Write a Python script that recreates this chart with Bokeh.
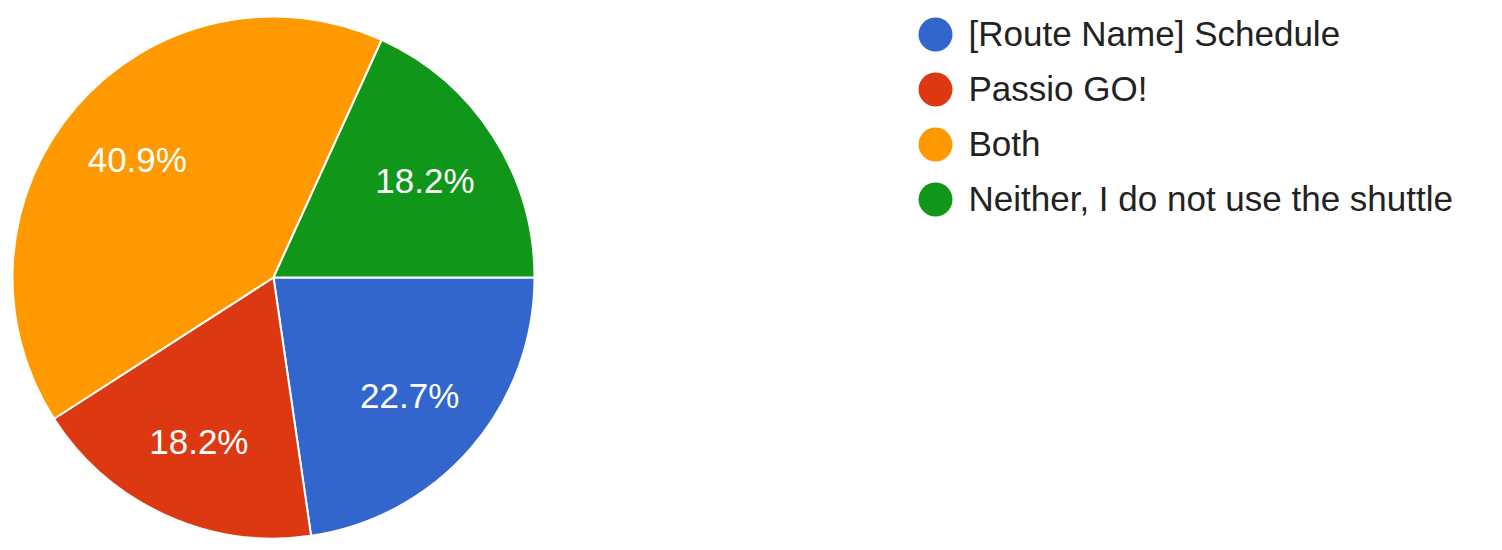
import math
from bokeh.plotting import figure
from bokeh.models import Range1d, ColumnDataSource
from bokeh.core.properties import value
from bokeh.embed import file_html
from bokeh.resources import INLINE

categories = ["[Route Name] Schedule", "Passio GO!", "Both", "Neither, I do not use the shuttle"]
percents = [22.7, 18.2, 40.9, 18.2]
colors = ["#3366cc", "#dc3912", "#ff9900", "#109618"]

W, H = 1502, 550
p = figure(width=W, height=H, output_backend="svg", toolbar_location=None,
           x_range=Range1d(0, W), y_range=Range1d(0, H), min_border=0)
p.axis.visible = False
p.grid.visible = False
p.outline_line_color = None
p.background_fill_color = "white"
p.border_fill_color = "white"

cx, cy, r = 273, H - 277, 261
total = sum(percents)
starts, ends, lx, ly, labels = [], [], [], [], []
cum = 0.0
for v in percents:
    a0 = -cum / total * 2 * math.pi
    cum += v
    a1 = -cum / total * 2 * math.pi
    starts.append(a1)
    ends.append(a0)
    mid = (a0 + a1) / 2
    lx.append(cx + 0.69 * r * math.cos(mid))
    ly.append(cy + 0.69 * r * math.sin(mid))
    labels.append(f"{v:.1f}%")

src = ColumnDataSource(dict(start=starts, end=ends, color=colors, lx=lx, ly=ly, label=labels))
p.wedge(x=cx, y=cy, radius=r, start_angle="start", end_angle="end", fill_color="color",
        line_color="white", line_width=2, source=src)
p.text(x="lx", y="ly", text="label", source=src, text_color="white",
       text_font=value("Liberation Sans"), text_font_size="35px",
       text_align="center", text_baseline="middle")

# legend
ly_leg = [H - (34 + 55 * i) for i in range(len(categories))]
lsrc = ColumnDataSource(dict(y=ly_leg, color=colors, name=categories))
p.scatter(x=935, y="y", size=34, marker="circle", fill_color="color", line_color=None, source=lsrc)
p.text(x=968, y="y", text="name", source=lsrc, text_color="#222222",
       text_font=value("Liberation Sans"), text_font_size="35px",
       text_align="left", text_baseline="middle", y_offset=-1)

open("out.html", "w").write(file_html(p, INLINE))
